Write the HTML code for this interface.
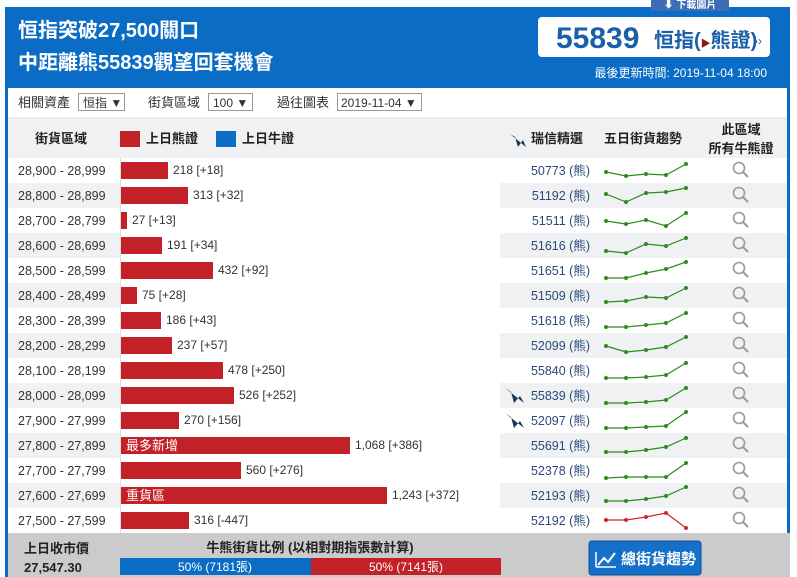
<!DOCTYPE html>
<html><head><meta charset="utf-8"><style>
body{margin:0;background:#fff;width:797px;height:577px;overflow:hidden}
svg{display:block;font-family:"Liberation Sans","Noto Sans CJK TC",sans-serif}
</style></head><body>
<svg width="797" height="577" viewBox="0 0 797 577" xmlns="http://www.w3.org/2000/svg">
<rect x="5" y="7" width="785" height="81" fill="#0a6cc4"/>
<rect x="651" y="0" width="78" height="11" fill="#3d6db5"/>
<text x="690" y="8" font-size="10" fill="#fff" text-anchor="middle" font-weight="bold">⬇ 下載圖片</text>
<text x="18" y="37" font-size="20" fill="#fff" font-weight="bold">恒指突破27,500關口</text>
<text x="18" y="69" font-size="20" fill="#fff" font-weight="bold">中距離熊55839觀望回套機會</text>
<rect x="538" y="17" width="232" height="40" rx="4" fill="#fff"/>
<text x="556" y="48" font-size="30" fill="#1a5fa8" font-weight="bold">55839</text>
<text x="654" y="47" font-size="20" fill="#1a5fa8" font-weight="bold">恒指(<tspan fill="#8b1a1a" font-size="10">▶</tspan>熊證)</text>
<text x="754" y="45" font-size="12" fill="#1a5fa8">››</text>
<text x="767" y="77" font-size="12" fill="#fff" text-anchor="end">最後更新時間: 2019-11-04 18:00</text>
<rect x="5" y="88" width="3" height="489" fill="#0a6cc4"/>
<rect x="787" y="88" width="3" height="445" fill="#0a6cc4"/>
<g font-size="13" fill="#333">
<text x="18" y="107">相關資產</text>
<rect x="78.5" y="93.5" width="46" height="17" fill="#fff" stroke="#999"/>
<text x="83" y="107" font-size="12">恒指 ▼</text>
<text x="148" y="107">街貨區域</text>
<rect x="208.5" y="93.5" width="44" height="17" fill="#fff" stroke="#999"/>
<text x="213" y="107" font-size="12">100 ▼</text>
<text x="277" y="107">過往圖表</text>
<rect x="337.5" y="93.5" width="84" height="17" fill="#fff" stroke="#999"/>
<text x="341" y="107" font-size="12">2019-11-04 ▼</text>
</g>
<rect x="8" y="118" width="779" height="40" fill="#f0f1f3"/>
<line x1="8" y1="118" x2="787" y2="118" stroke="#ddd"/>
<g font-size="13" fill="#222" font-weight="bold">
<text x="35" y="143">街貨區域</text>
<rect x="120" y="131" width="20" height="16" fill="#c12127"/>
<text x="146" y="143">上日熊證</text>
<rect x="216" y="131" width="20" height="16" fill="#0a6cc4"/>
<text x="242" y="143">上日牛證</text>
<polygon points="510,134 526,147 523,140 518,147 515,137" fill="#1d3557"/>
<text x="531" y="143">瑞信精選</text>
<text x="604" y="143">五日街貨趨勢</text>
<text x="741" y="134" text-anchor="middle">此區域</text>
<text x="741" y="153" text-anchor="middle">所有牛熊證</text>
</g>
<g id="rows" font-size="12.5"></g>
<rect x="8" y="533" width="782" height="44" fill="#cbcbcb"/>
<text x="24" y="553" font-size="13" font-weight="bold" fill="#222">上日收市價</text>
<text x="24" y="572" font-size="13" font-weight="bold" fill="#222">27,547.30</text>
<text x="310" y="552" font-size="13" font-weight="bold" fill="#222" text-anchor="middle">牛熊街貨比例 (以相對期指張數計算)</text>
<rect x="120" y="558" width="191" height="17" fill="#0a6cc4"/>
<rect x="311" y="558" width="190" height="17" fill="#c12127"/>
<text x="215" y="571" font-size="12" fill="#fff" text-anchor="middle">50% (7181張)</text>
<text x="406" y="571" font-size="12" fill="#fff" text-anchor="middle">50% (7141張)</text>
<rect x="589" y="541" width="112" height="34" rx="3" fill="#1470c8" stroke="#0b4f93"/>
<polyline points="598,565 604,558 608,562 615,553" fill="none" stroke="#fff" stroke-width="2"/>
<line x1="596" y1="552" x2="596" y2="567" stroke="#fff" stroke-width="1.5"/><line x1="596" y1="567" x2="616" y2="567" stroke="#fff" stroke-width="1.5"/>
<text x="621" y="564" font-size="15" fill="#fff" font-weight="bold">總街貨趨勢</text>
</svg>
<script>
var R=[["28,900 - 28,999",218,"218 [+18]",50773,[14,18,16,17,6]],
["28,800 - 28,899",313,"313 [+32]",51192,[11,19,10,9,5]],
["28,700 - 28,799",27,"27 [+13]",51511,[13,16,12,18,5]],
["28,600 - 28,699",191,"191 [+34]",51616,[18,20,11,13,5]],
["28,500 - 28,599",432,"432 [+92]",51651,[20,20,15,11,4]],
["28,400 - 28,499",75,"75 [+28]",51509,[19,18,14,15,5]],
["28,300 - 28,399",186,"186 [+43]",51618,[19,19,17,15,5]],
["28,200 - 28,299",237,"237 [+57]",52099,[13,19,17,14,4]],
["28,100 - 28,199",478,"478 [+250]",55840,[20,20,19,17,5]],
["28,000 - 28,099",526,"526 [+252]",55839,[20,20,19,17,5]],
["27,900 - 27,999",270,"270 [+156]",52097,[20,20,19,18,4]],
["27,800 - 27,899",1068,"1,068 [+386]",55691,[19,19,17,14,5]],
["27,700 - 27,799",560,"560 [+276]",52378,[20,19,19,19,5]],
["27,600 - 27,699",1243,"1,243 [+372]",52193,[18,18,16,13,4]],
["27,500 - 27,599",316,"316 [-447]",52192,[12,12,9,5,20]]];
var s="";
R.forEach(function(r,i){var t=158+25*i;
if(i%2==1){s+='<rect x="8" y="'+t+'" width="112" height="25" fill="#f0f1f3"/><rect x="500" y="'+t+'" width="287" height="25" fill="#f0f1f3"/>';}
s+='<text x="18" y="'+(t+17)+'" fill="#333">'+r[0]+'</text>';
var w=Math.round(r[1]*0.214);
s+='<rect x="121" y="'+(t+4)+'" width="'+w+'" height="17" fill="#c12127"/>';
s+='<text x="'+(121+w+5)+'" y="'+(t+16)+'" font-size="12" fill="#333">'+r[2]+'</text>';
if(i==11)s+='<text x="126" y="'+(t+17)+'" font-size="13" fill="#fff">最多新增</text>';
if(i==13)s+='<text x="126" y="'+(t+17)+'" font-size="13" fill="#fff">重貨區</text>';
if(i==9||i==10)s+='<polygon points="505,'+(t+5)+' 524,'+(t+20)+' 520,'+(t+13)+' 514,'+(t+20)+' 511,'+(t+9)+'" fill="#1d3557"/>';
s+='<text x="590" y="'+(t+17)+'" fill="#2b4a7a" text-anchor="end">'+r[3]+' (熊)</text>';
var c=i==14?"#d0282e":"#2e8b1e",p=r[4].map(function(o,k){return (606+20*k)+","+(t+o)}).join(" ");
s+='<polyline points="'+p+'" fill="none" stroke="'+c+'" stroke-width="1.2"/>';
r[4].forEach(function(o,k){s+='<circle cx="'+(606+20*k)+'" cy="'+(t+o)+'" r="2" fill="'+c+'"/>';});
s+='<circle cx="739" cy="'+(t+10)+'" r="5.5" fill="none" stroke="#999" stroke-width="1.6"/><line x1="743" y1="'+(t+14)+'" x2="748" y2="'+(t+19)+'" stroke="#999" stroke-width="2"/>';
});
s+='<line x1="120.5" y1="158" x2="120.5" y2="533" stroke="#ddd"/>';
document.getElementById("rows").innerHTML=s;
</script>
</body></html>
